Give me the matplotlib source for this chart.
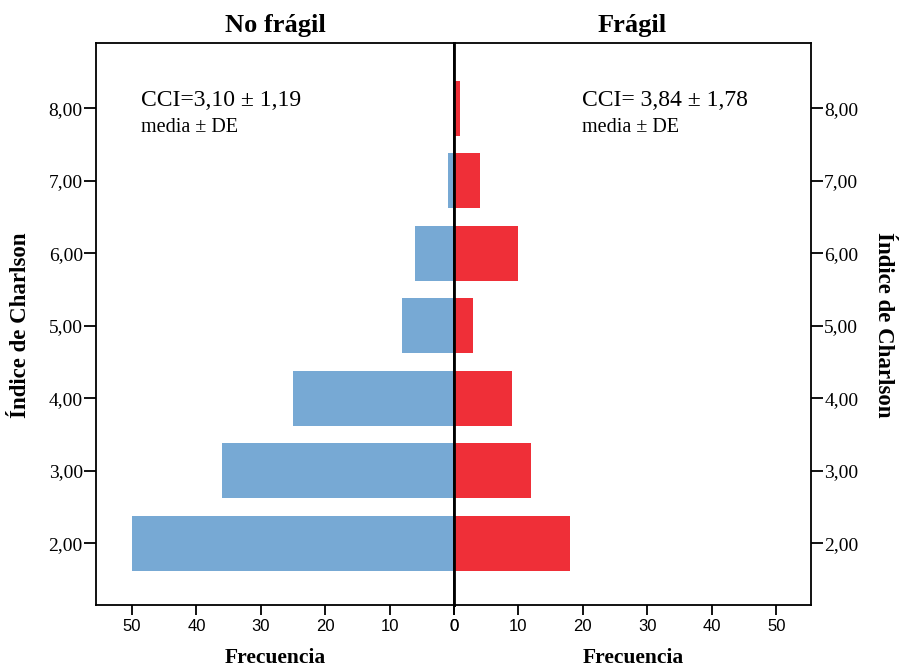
import matplotlib
matplotlib.use('Agg')
from matplotlib import pyplot as plt

plt.rcParams['font.family'] = ['Liberation Serif', 'DejaVu Serif']

# Charlson index counts per group
charlson = [2, 3, 4, 5, 6, 7, 8]
no_fragil = [50, 36, 25, 8, 6, 1, 0]
fragil = [18, 12, 9, 3, 10, 4, 1]
x_ticks = [0, 10, 20, 30, 40, 50]
y_ticks = [2, 3, 4, 5, 6, 7, 8]
y_ticklabels = ['2,00', '3,00', '4,00', '5,00', '6,00', '7,00', '8,00']

blue = '#77a9d4'
red = '#ef2f38'

W, H = 901, 669
fig = plt.figure(figsize=(W / 100, H / 100), dpi=100)


def px(x, y):
    return x / W, 1 - y / H


ax_l = fig.add_axes([96 / W, 64 / H, 358 / W, 562 / H])
ax_r = fig.add_axes([454 / W, 64 / H, 357 / W, 562 / H], sharey=ax_l)

ax_l.barh(charlson, no_fragil, height=0.76, color=blue, zorder=2)
ax_r.barh(charlson, fragil, height=0.76, color=red, zorder=2)

ax_l.set_xlim(55.6, 0)
ax_r.set_xlim(0, 55.4)
ax_l.set_ylim(1.15, 8.9)

for ax in (ax_l, ax_r):
    ax.set_xticks(x_ticks)
    ax.set_xticklabels([str(t) for t in x_ticks], family='Liberation Sans', fontsize=12)
    ax.tick_params(axis='x', direction='out', length=7, width=1.3, pad=3)
    ax.tick_params(axis='y', direction='out', length=8.5, width=1.3, pad=1, labelsize=14)
    for s in ax.spines.values():
        s.set_linewidth(1.3)

ax_l.set_yticks(y_ticks)
ax_l.set_yticklabels(y_ticklabels)
ax_l.spines['right'].set_linewidth(2)
ax_r.spines['left'].set_linewidth(2)
ax_r.yaxis.tick_right()
ax_r.tick_params(axis='y', left=False, labelleft=False, right=True, labelright=True)

# group titles and axis labels
fig.text(*px(275, 32), 'No frágil', ha='center', va='baseline', fontsize=19, fontweight='bold')
fig.text(*px(632, 32), 'Frágil', ha='center', va='baseline', fontsize=19, fontweight='bold')
fig.text(*px(275, 658), 'Frecuencia', ha='center', va='center', fontsize=15.5, fontweight='bold')
fig.text(*px(633, 658), 'Frecuencia', ha='center', va='center', fontsize=15.5, fontweight='bold')
fig.text(*px(21, 325), 'Índice de Charlson', ha='center', va='center', rotation=90,
         fontsize=16.5, fontweight='bold')
fig.text(*px(883, 325), 'Índice de Charlson', ha='center', va='center', rotation=270,
         fontsize=16.5, fontweight='bold')

# mean and SD annotations
fig.text(*px(141, 106), 'CCI=3,10 ± 1,19', ha='left', va='baseline', fontsize=17)
fig.text(*px(141, 132), 'media ± DE', ha='left', va='baseline', fontsize=14.5)
fig.text(*px(582, 106), 'CCI= 3,84 ± 1,78', ha='left', va='baseline', fontsize=17)
fig.text(*px(582, 132), 'media ± DE', ha='left', va='baseline', fontsize=14.5)

fig.savefig('out.png', dpi=100)
